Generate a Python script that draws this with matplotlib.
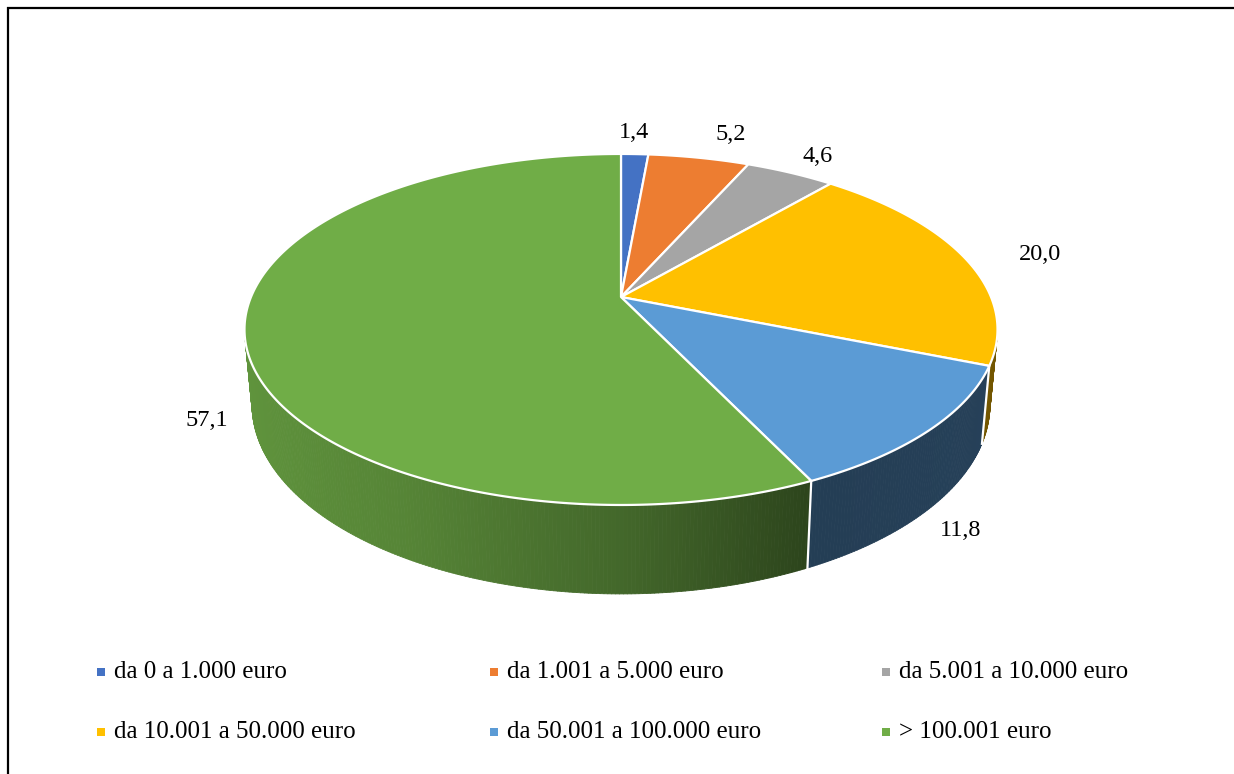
import numpy as np
import matplotlib
matplotlib.use("Agg")
import matplotlib.pyplot as plt
from matplotlib.patches import Polygon
from matplotlib.collections import PolyCollection
from matplotlib.colors import to_rgb

# ---------------- data ----------------
categories = ["da 0 a 1.000 euro", "da 1.001 a 5.000 euro", "da 5.001 a 10.000 euro",
              "da 10.001 a 50.000 euro", "da 50.001 a 100.000 euro", "> 100.001 euro"]
values = [1.4, 5.2, 4.6, 20.0, 11.8, 57.1]
value_labels = ["1,4", "5,2", "4,6", "20,0", "11,8", "57,1"]
colors = ["#4472C4", "#ED7D31", "#A5A5A5", "#FFC000", "#5B9BD5", "#70AD47"]

# ---------------- layout ----------------
W, H = 1234, 774
cx, cy = 621, 297        # pie vertex (pixels)
R, S = 370, 169.5        # horizontal / vertical radii
k = 0.185                # perspective factor
D = 72.5                 # thickness
bottom_shrink = 0.98
label_xy = [(634, 132), (731, 135), (818, 157), (1040, 255), (961, 530), (207, 420)]
legend_xy = [(101, 672), (494, 672), (886, 672), (101, 732), (494, 732), (886, 732)]
legend_gap = 13

plt.rcParams['font.family'] = ['Liberation Serif', 'DejaVu Serif']

fig = plt.figure(figsize=(W / 100, H / 100), dpi=100)
ax = fig.add_axes([0, 0, 1, 1])
ax.set_xlim(0, W)
ax.set_ylim(H, 0)
ax.axis("off")


def proj(theta, bottom=False):
    u, v = np.sin(theta), np.cos(theta)
    w = 1 + k * v
    x = R * u / w
    y = cy - S * v / w
    if bottom:
        x = x * bottom_shrink
        y = y + D / w
    return cx + x, y


total = sum(values)
frac = np.array(values) / total
edges = np.concatenate([[0], np.cumsum(frac)]) * 2 * np.pi

vis_lo = np.arccos(-k)
vis_hi = 2 * np.pi - vis_lo


def shade(name, s):
    if name == "#70AD47":
        return np.interp(s, [-1, -0.5, 0, 0.5], [0.86, 0.77, 0.60, 0.36])
    if name == "#5B9BD5":
        return np.interp(s, [0.5, 1.0], [0.40, 0.42])
    return 0.45

# sides
for i, c in enumerate(colors):
    a0, a1 = max(edges[i], vis_lo), min(edges[i + 1], vis_hi)
    if a1 <= a0:
        continue
    n = max(2, int(np.degrees(a1 - a0) * 2))
    th = np.linspace(a0, a1, n + 1)
    polys, fcs = [], []
    base = np.array(to_rgb(c))
    for t0, t1 in zip(th[:-1], th[1:]):
        p = [proj(t0), proj(t1), proj(t1, True), proj(t0, True)]
        polys.append(p)
        s = np.sin(0.5 * (t0 + t1))
        fcs.append(np.clip(base * shade(c, s), 0, 1))
    pc = PolyCollection(polys, facecolors=fcs, edgecolors=fcs, linewidths=0.6, zorder=2)
    ax.add_collection(pc)

# white boundary lines on side
for e in edges[1:-1]:
    if vis_lo < e < vis_hi:
        x0, y0 = proj(e)
        x1, y1 = proj(e, True)
        ax.plot([x0, x1], [y0, y1], color="white", lw=1.6, zorder=3)

# top faces
for i, c in enumerate(colors):
    th = np.linspace(edges[i], edges[i + 1], max(3, int(np.degrees(edges[i + 1] - edges[i]) * 2)))
    pts = [(cx, cy)] + [proj(t) for t in th]
    ax.add_patch(Polygon(pts, closed=True, facecolor=c, edgecolor="white", lw=1.6,
                         joinstyle="round", zorder=4))

# labels
for (lx, ly), t in zip(label_xy, value_labels):
    ax.text(lx, ly, t, fontsize=17.5, ha="center", va="center", color="#000000", zorder=5)

# legend
for (lx, ly), c, name in zip(legend_xy, colors, categories):
    ax.scatter([lx], [ly], marker="s", s=26, color=c, zorder=5, linewidths=0)
    ax.text(lx + legend_gap, ly, name, fontsize=18, ha="left", va="center", color="#000000", zorder=5)

# border (top and left)
ax.plot([7, W], [7.5, 7.5], color="black", lw=1.6, solid_capstyle="butt")
ax.plot([7.5, 7.5], [7, H], color="black", lw=1.6, solid_capstyle="butt")

fig.savefig("out.png", dpi=100, facecolor="white")
